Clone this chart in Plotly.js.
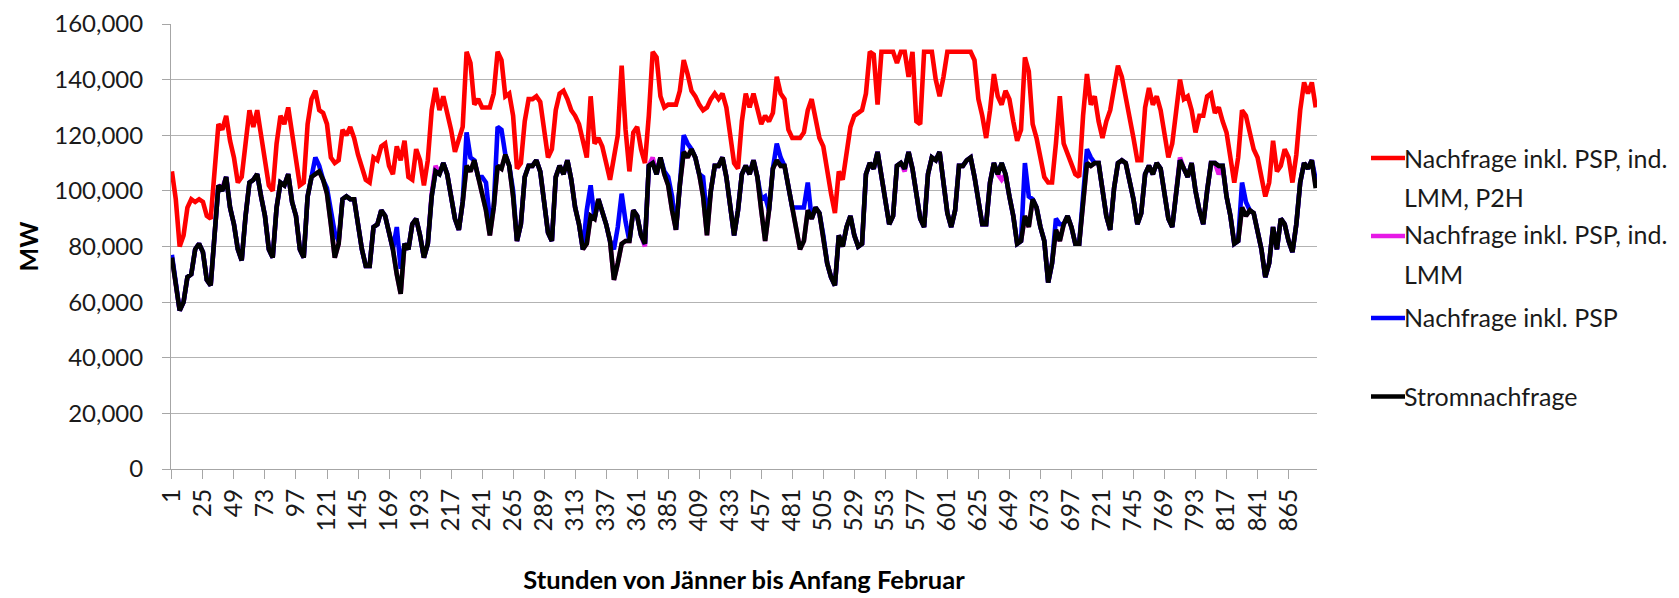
<!DOCTYPE html>
<html>
<head>
<meta charset="utf-8">
<script src="https://cdn.plot.ly/plotly-3.0.1.min.js"></script>
<style>
html,body{margin:0;padding:0;background:#fff;}
#chart{width:1679px;height:598px;}
</style>
</head>
<body>
<div id="chart"></div>
<script>
// Hour index of every sample (every 3rd hour, Jänner 1 .. Anfang Februar)
const sampleStepHours = 3;
const firstHour = 1;
const lastHour = 886;

// Values in thousand MW (one value per sample)
const nachfrageP2H = [
107,97,80,84,94,97,96,97,96,91,90,108,124,122,127,118,112,103,105,117,
129,123,129,120,111,102,100,117,127,124,130,120,110,102,103,124,133,136,129,128,
124,112,110,111,122,120,123,119,113,108,104,103,112,111,116,117,109,106,116,111,
118,105,104,115,111,102,111,129,137,129,134,128,122,114,118,123,150,146,131,133,
130,130,130,135,150,147,134,135,127,108,110,125,133,133,134,132,123,112,115,129,
135,136,133,129,127,124,118,112,134,117,119,116,110,104,112,120,145,122,107,121,
123,115,110,127,150,148,134,130,131,131,131,136,147,142,136,134,131,129,130,133,
135,133,135,130,119,110,108,125,135,130,135,130,124,127,125,128,141,135,133,122,
119,119,119,121,129,133,125,119,116,107,99,92,107,104,113,123,127,128,129,135,
150,149,131,150,150,150,150,146,150,150,141,150,125,124,150,150,150,140,134,141,
150,150,150,150,150,150,150,147,133,127,119,129,142,134,131,136,133,125,118,122,
148,143,124,119,112,105,103,103,117,134,117,113,110,106,105,127,142,131,134,125,
119,125,129,136,145,141,134,128,119,111,111,130,137,131,134,129,121,112,117,127,
140,133,134,129,121,127,127,134,135,128,130,125,121,112,103,112,129,127,121,115,
112,105,98,103,118,107,109,115,112,103,113,129,139,135,139,130
];

const nachfrageLMM = [
76,66,57,60,69,70,79,81,78,68,66,84,102,101,105,94,88,79,75,91,
103,104,106,98,91,79,76,94,103,102,106,96,91,79,76,98,105,106,107,104,
99,88,76,81,97,98,97,97,88,79,73,73,87,88,93,91,85,79,70,63,
81,79,88,90,84,76,81,99,109,106,110,106,98,90,86,96,109,107,111,105,
100,93,84,94,109,108,113,109,98,82,88,105,109,109,111,107,96,85,82,105,
109,106,111,104,94,88,79,81,91,90,97,93,88,82,68,74,81,82,82,93,
91,84,80,109,112,106,112,106,102,93,86,102,114,112,115,112,106,98,84,100,
109,109,112,105,93,84,93,106,109,106,111,105,93,82,93,108,111,109,109,102,
94,87,79,82,93,90,94,92,84,74,69,66,84,80,87,91,84,80,81,106,
110,108,114,105,96,88,91,109,110,107,114,108,99,90,87,106,112,111,114,104,
92,87,93,109,109,111,112,105,96,88,88,103,110,106,104,106,98,91,81,82,
91,87,97,94,87,82,67,74,86,82,88,91,87,81,81,98,110,109,110,110,
100,91,86,101,110,111,110,104,97,88,92,106,109,106,110,108,100,90,87,98,
112,108,105,110,100,93,88,100,110,110,106,109,98,91,81,82,94,91,93,92,
86,79,69,74,87,79,90,88,82,78,88,103,110,108,111,102
];

const nachfragePSP = [
77,66,57,60,69,70,79,81,78,68,66,84,102,100,105,94,88,79,75,91,
103,104,106,98,91,79,76,94,103,102,106,96,91,79,76,98,105,112,109,104,
101,92,85,82,97,98,97,97,88,79,73,73,87,88,93,91,85,79,87,72,
81,79,88,90,84,76,81,98,107,106,110,106,98,90,86,96,121,112,111,105,
105,103,90,94,123,122,113,109,100,82,88,105,109,109,111,107,96,85,82,105,
109,106,111,104,94,88,79,93,102,90,97,93,88,82,79,87,99,89,82,93,
91,84,81,109,110,106,112,107,105,98,86,102,120,117,115,112,106,105,90,100,
109,109,112,105,93,84,93,106,109,106,111,105,97,98,93,108,117,112,109,102,
94,94,94,94,103,90,94,92,84,74,69,66,84,80,87,91,84,80,81,106,
110,108,114,105,96,88,91,109,110,108,114,108,99,90,87,106,112,111,114,104,
92,87,93,109,109,111,112,105,96,88,88,103,110,106,110,106,98,91,81,82,
110,98,97,94,87,82,67,74,90,88,88,91,87,81,81,98,115,112,110,110,
100,91,86,101,110,111,110,104,97,88,92,106,109,106,110,108,100,90,87,98,
111,108,105,110,100,93,88,100,110,110,109,109,98,91,81,82,103,96,93,92,
86,79,69,74,87,79,90,88,82,78,88,103,110,108,111,104
];

const stromnachfrage = [
76,66,57,60,69,70,79,81,78,68,66,84,102,100,105,94,88,79,75,91,
103,104,106,98,91,79,76,94,103,102,106,96,91,79,76,98,105,106,107,104,
99,88,76,81,97,98,97,97,88,79,73,73,87,88,93,91,85,79,70,63,
81,79,88,90,84,76,81,98,107,106,110,106,98,90,86,96,109,107,111,105,
100,93,84,94,109,108,113,109,98,82,88,105,109,109,111,107,96,85,82,105,
109,106,111,104,94,88,79,81,91,90,97,93,88,82,68,74,81,82,82,93,
91,84,81,109,110,106,112,106,102,93,86,102,114,112,115,112,106,98,84,100,
109,109,112,105,93,84,93,106,109,106,111,105,93,82,93,108,111,109,109,102,
94,87,79,82,93,90,94,92,84,74,69,66,84,80,87,91,84,80,81,106,
110,108,114,105,96,88,91,109,110,108,114,108,99,90,87,106,112,111,114,104,
92,87,93,109,109,111,112,105,96,88,88,103,110,106,110,106,98,91,81,82,
91,87,97,94,87,82,67,74,86,82,88,91,87,81,81,98,110,109,110,110,
100,91,86,101,110,111,110,104,97,88,92,106,109,106,110,108,100,90,87,98,
111,108,105,110,100,93,88,100,110,110,109,109,98,91,81,82,94,91,93,92,
86,79,69,74,87,79,90,88,82,78,88,103,110,108,111,101
];

// Series names, as the legend writes them (one entry per line of text)
const seriesNameLines = [
  ['Nachfrage inkl. PSP, ind.', 'LMM, P2H'],
  ['Nachfrage inkl. PSP, ind.', 'LMM'],
  ['Nachfrage inkl. PSP'],
  ['Stromnachfrage']
];
const seriesColors = ['#ff0000', '#e619e6', '#0000ff', '#000000'];

const xTickLabels = ['1','25','49','73','97','121','145','169','193','217','241','265','289','313','337','361','385','409','433','457','481','505','529','553','577','601','625','649','673','697','721','745','769','793','817','841','865'];
const yTickValues = [0,20,40,60,80,100,120,140,160];
const yTickLabels = ['0','20,000','40,000','60,000','80,000','100,000','120,000','140,000','160,000'];

const xTitle = 'Stunden von Jänner bis Anfang Februar';
const yTitle = 'MW';

// category positions (hour numbers) of the samples
const hours = [];
for (let h = firstHour; h <= lastHour; h += sampleStepHours) hours.push(h);

const allSeries = [nachfrageP2H, nachfrageLMM, nachfragePSP, stromnachfrage];
const traces = allSeries.map((vals, k) => ({
  type: 'scatter',
  mode: 'lines',
  x: hours.slice(0, vals.length),
  y: vals,
  name: seriesNameLines[k].join(' '),
  line: {color: seriesColors[k], width: 4.6, shape: 'linear'},
  showlegend: false
}));

const font = 'Lato, "Open Sans", sans-serif';

// Legend drawn beside the plot (Excel style: wrapped names, line samples)
// pixel layout of the plot area: top 24 px, bottom 469 px, left 171 px, width 1146 px
const plotTopPx = 24, plotBottomPx = 469, plotLeftPx = 171, plotWidthPx = 1146;
const toPaperY = px => (plotBottomPx - px) / (plotBottomPx - plotTopPx);
const toPaperX = px => (px - plotLeftPx) / plotWidthPx;

const legendTextLinePx = [[158, 197], [234, 274], [317], [395.5]];
const legendSamplePx = [158, 236, 318, 396.5];
const legendTextLeftPx = 1403;
const legendSampleLeftPx = 1371, legendSampleRightPx = 1405;

const annotations = [];
const shapes = [];
seriesNameLines.forEach((lines, k) => {
  lines.forEach((txt, j) => {
    annotations.push({
      xref: 'paper', yref: 'paper',
      x: toPaperX(legendTextLeftPx), y: toPaperY(legendTextLinePx[k][j]),
      xanchor: 'left', yanchor: 'middle',
      text: txt, showarrow: false, borderpad: 0,
      font: {family: font, size: 25, color: '#1a1a1a'}
    });
  });
  shapes.push({
    type: 'line', xref: 'paper', yref: 'paper',
    x0: toPaperX(legendSampleLeftPx), x1: toPaperX(legendSampleRightPx),
    y0: toPaperY(legendSamplePx[k]), y1: toPaperY(legendSamplePx[k]),
    line: {color: seriesColors[k], width: 4.5}
  });
});

const layout = {
  width: 1679,
  height: 598,
  margin: {l: plotLeftPx, r: 1679 - plotLeftPx - plotWidthPx, t: plotTopPx, b: 598 - plotBottomPx, pad: 0},
  paper_bgcolor: '#ffffff',
  plot_bgcolor: '#ffffff',
  font: {family: font, color: '#1a1a1a'},
  showlegend: false,
  annotations: annotations,
  shapes: shapes,
  xaxis: {
    range: [0.3, 887],
    tickmode: 'array',
    tickvals: xTickLabels.map(Number),
    ticktext: xTickLabels,
    tickangle: -90,
    ticks: 'outside',
    ticklen: 9,
    tickcolor: '#a6a6a6',
    tickfont: {family: font, size: 24.5, color: '#1a1a1a'},
    showline: true,
    linecolor: '#a6a6a6',
    linewidth: 1,
    showgrid: false,
    zeroline: false,
    automargin: false,
    title: {text: xTitle, font: {family: font, size: 25.5, color: '#000', weight: 'bold'}, standoff: 40}
  },
  yaxis: {
    range: [0, 160],
    tickmode: 'array',
    tickvals: yTickValues,
    ticktext: yTickLabels,
    ticks: 'outside',
    ticklen: 8,
    tickcolor: '#a6a6a6',
    tickfont: {family: font, size: 24, color: '#1a1a1a'},
    ticklabelstandoff: 14,
    showline: true,
    linecolor: '#a6a6a6',
    linewidth: 1,
    showgrid: true,
    gridcolor: '#b3b3b3',
    gridwidth: 1,
    zeroline: false,
    automargin: false,
    title: {text: yTitle, font: {family: font, size: 25, color: '#000', weight: 'bold'}, standoff: 8}
  }
};

Plotly.newPlot('chart', traces, layout, {displayModeBar: false, staticPlot: true});
</script>
</body>
</html>
